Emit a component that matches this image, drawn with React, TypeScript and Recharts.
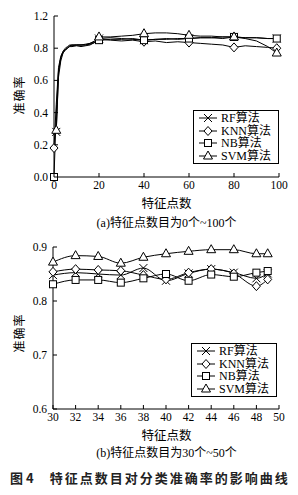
import { LineChart, Line, XAxis, YAxis } from 'recharts';

// ---- chart (a): 0 ~ 100 feature points ----
const topX = [0, 1, 2, 3, 4, 5, 6, 7, 8, 10, 12, 14, 16, 18, 20, 25, 30, 35, 40, 45, 50, 55, 60, 65, 70, 75, 80, 85, 90, 95, 99];
const topRF = [null, 0.28, 0.65, 0.74, 0.78, 0.8, 0.81, 0.82, 0.82, 0.82, 0.82, 0.82, 0.83, 0.84, 0.86, 0.865, 0.86, 0.855, 0.85, 0.855, 0.86, 0.855, 0.86, 0.865, 0.865, 0.86, 0.87, 0.865, 0.865, 0.86, 0.86];
const topKNN = [0.18, 0.45, 0.68, 0.75, 0.78, 0.79, 0.8, 0.81, 0.81, 0.815, 0.81, 0.815, 0.82, 0.835, 0.855, 0.85, 0.845, 0.85, 0.84, 0.845, 0.835, 0.84, 0.835, 0.83, 0.825, 0.82, 0.805, 0.815, 0.81, 0.805, 0.8];
const topNB = [0.0, 0.4, 0.66, 0.74, 0.77, 0.79, 0.8, 0.815, 0.82, 0.82, 0.82, 0.82, 0.825, 0.835, 0.85, 0.855, 0.855, 0.86, 0.85, 0.855, 0.855, 0.86, 0.86, 0.865, 0.865, 0.87, 0.87, 0.865, 0.865, 0.86, 0.86];
const topSVM = [null, 0.29, 0.62, 0.72, 0.77, 0.79, 0.8, 0.815, 0.815, 0.82, 0.82, 0.825, 0.83, 0.845, 0.87, 0.87, 0.875, 0.88, 0.89, 0.895, 0.895, 0.89, 0.88, 0.875, 0.875, 0.87, 0.87, 0.86, 0.845, 0.81, 0.77];
const topMarkX = [20, 40, 60, 80, 99];
const topXTicks = [0, 20, 40, 60, 80, 100];
const topYTicks = [0, 0.2, 0.4, 0.6, 0.8, 1.0];
const topYLabels = ['0.0', '0.2', '0.4', '0.6', '0.8', '1.2'];

// ---- chart (b): 30 ~ 50 feature points ----
const botX = [30, 32, 34, 36, 38, 40, 42, 44, 46, 48, 49];
const botRF = [0.848, 0.8525, 0.85, 0.848, 0.861, 0.8375, 0.851, 0.859, 0.8525, 0.842, 0.851];
const botKNN = [0.854, 0.859, 0.8575, 0.856, 0.848, 0.84, 0.8525, 0.859, 0.851, 0.8275, 0.84];
const botNB = [0.831, 0.839, 0.839, 0.834, 0.842, 0.85, 0.8375, 0.849, 0.845, 0.8525, 0.8555];
const botSVM = [0.872, 0.884, 0.8825, 0.87, 0.881, 0.8875, 0.892, 0.895, 0.895, 0.8875, 0.8875];
const botXTicks = [30, 32, 34, 36, 38, 40, 42, 44, 46, 48, 50];
const botYTicks = [0.6, 0.7, 0.8, 0.9];

const SERIES = [
  { key: 'rf', name: 'RF算法', shape: 'cross' },
  { key: 'knn', name: 'KNN算法', shape: 'diamond' },
  { key: 'nb', name: 'NB算法', shape: 'square' },
  { key: 'svm', name: 'SVM算法', shape: 'triangle' },
];

const FONT = "'Liberation Serif', 'Noto Sans CJK SC', serif";

const topRows = topX.map((x, i) => ({ x, rf: topRF[i], knn: topKNN[i], nb: topNB[i], svm: topSVM[i] }));
const botRows = botX.map((x, i) => ({ x, rf: botRF[i], knn: botKNN[i], nb: botNB[i], svm: botSVM[i] }));

function Marker({ shape, cx, cy }: { shape: string; cx: number; cy: number }) {
  const s = 4;
  if (shape === 'cross')
    return (
      <g stroke="#000" strokeWidth={1}>
        <line x1={cx - s} y1={cy - s} x2={cx + s} y2={cy + s} />
        <line x1={cx - s} y1={cy + s} x2={cx + s} y2={cy - s} />
      </g>
    );
  if (shape === 'diamond')
    return <polygon points={`${cx},${cy - s - 0.5} ${cx + s},${cy} ${cx},${cy + s + 0.5} ${cx - s},${cy}`} fill="#fff" stroke="#000" />;
  if (shape === 'square')
    return <rect x={cx - s + 0.5} y={cy - s + 0.5} width={2 * s - 1} height={2 * s - 1} fill="#fff" stroke="#000" />;
  return <polygon points={`${cx},${cy - s - 1} ${cx + s + 0.5},${cy + s - 1} ${cx - s - 0.5},${cy + s - 1}`} fill="#fff" stroke="#000" />;
}

const makeDot = (shape: string, key: string, rows: any[], markX: number[] | null) => (props: any) => {
  const { cx, cy, payload, index } = props;
  const first = rows.findIndex((r) => r[key] !== null);
  const show = markX === null || index === first || markX.includes(payload.x);
  if (!show || cy == null || payload[key] === null) return <g key={`d-${key}-${index}`} />;
  return (
    <g key={`d-${key}-${index}`}>
      <Marker shape={shape} cx={cx} cy={cy} />
    </g>
  );
};

const XTick = ({ x, y, payload }: any) => (
  <g>
    <line x1={x} y1={y} x2={x} y2={y - 4} stroke="#000" />
    <text x={x} y={y + 12} textAnchor="middle" fontSize={11.5} fontFamily={FONT} fill="#000">
      {payload.value}
    </text>
  </g>
);

const makeYTick = (labels: (v: number) => string) => ({ x, y, payload }: any) => (
  <g>
    <line x1={x} y1={y} x2={x + 4} y2={y} stroke="#000" />
    <text x={x - 6} y={y + 4} textAnchor="end" fontSize={11.5} fontFamily={FONT} fill="#000">
      {labels(payload.value)}
    </text>
  </g>
);

const LegendBox = ({ top, left }: { top: number; left: number }) => (
  <div
    style={{
      position: 'absolute',
      top,
      left,
      border: '1px solid #000',
      background: '#fff',
      padding: '1px 4px',
      width: 76,
      boxSizing: 'content-box',
    }}
  >
    {SERIES.map((s) => (
      <div key={s.key} style={{ display: 'flex', alignItems: 'center', height: 12.5 }}>
        <svg width={20} height={12}>
          <line x1={1} y1={6} x2={19} y2={6} stroke="#000" />
          <Marker shape={s.shape} cx={10} cy={6} />
        </svg>
        <span style={{ marginLeft: 3, fontSize: 12, fontFamily: FONT, lineHeight: '12px', color: '#000' }}>{s.name}</span>
      </div>
    ))}
  </div>
);

const text = (top: number, content: string, extra: any = {}) => (
  <div
    style={{
      position: 'absolute',
      top,
      left: 54,
      width: 225,
      textAlign: 'center',
      fontSize: 12,
      lineHeight: '14px',
      fontFamily: FONT,
      color: '#000',
      ...extra,
    }}
  >
    {content}
  </div>
);

const yTitle = (centerY: number) => (
  <div
    style={{
      position: 'absolute',
      left: 20 - 30,
      top: centerY - 7,
      width: 60,
      height: 14,
      textAlign: 'center',
      transform: 'rotate(-90deg)',
      fontSize: 12,
      lineHeight: '14px',
      fontFamily: FONT,
      color: '#000',
      letterSpacing: 1,
    }}
  >
    准确率
  </div>
);

function Chart({ rows, xDomain, xTicks, yDomain, yTicks, yLabel, marginTop, marginLeft, plotH, markX, lineType }: any) {
  return (
    <LineChart
      width={298}
      height={200}
      data={rows}
      margin={{ top: marginTop, right: 19, left: marginLeft, bottom: 200 - marginTop - plotH - 15 }}
    >
      <XAxis
        dataKey="x"
        type="number"
        domain={xDomain}
        ticks={xTicks}
        height={15}
        tickSize={0}
        tickMargin={0}
        tick={<XTick />}
        axisLine={{ stroke: '#000' }}
        tickLine={false}
        interval={0}
      />
      <YAxis
        type="number"
        domain={yDomain}
        ticks={yTicks}
        width={30}
        tickSize={0}
        tickMargin={0}
        tick={makeYTick(yLabel)}
        axisLine={{ stroke: '#000' }}
        tickLine={false}
        interval={0}
      />
      {SERIES.map((s) => (
        <Line
          key={s.key}
          dataKey={s.key}
          name={s.name}
          type={lineType}
          stroke="#000"
          strokeWidth={1}
          dot={makeDot(s.shape, s.key, rows, markX)}
          activeDot={false}
          isAnimationActive={false}
          connectNulls={false}
        />
      ))}
    </LineChart>
  );
}

export default function App() {
  return (
    <div style={{ position: 'absolute', left: 0, top: 0, width: 298, height: 495, background: '#fff', overflow: 'hidden' }}>
      <div style={{ position: 'absolute', left: 0, top: 0 }}>
        <Chart
          rows={topRows}
          xDomain={[0, 100]}
          xTicks={topXTicks}
          yDomain={[0, 1]}
          yTicks={topYTicks}
          yLabel={(v: number) => topYLabels[topYTicks.indexOf(v)] ?? v.toFixed(1)}
          marginTop={16}
          marginLeft={24}
          plotH={161}
          markX={topMarkX}
          lineType="linear"
        />
      </div>
      <LegendBox top={110} left={193} />
      {yTitle(95)}
      {text(197, '特征点数', { fontSize: 12.5 })}
      {text(216, '(a)特征点数目为0个~100个')}

      <div style={{ position: 'absolute', left: 0, top: 230 }}>
        <Chart
          rows={botRows}
          xDomain={[30, 50]}
          xTicks={botXTicks}
          yDomain={[0.6, 0.9]}
          yTicks={botYTicks}
          yLabel={(v: number) => v.toFixed(1)}
          marginTop={17}
          marginLeft={23}
          plotH={162}
          markX={null}
          lineType="monotone"
        />
      </div>
      <LegendBox top={343} left={191} />
      {yTitle(333)}
      {text(429, '特征点数', { fontSize: 12.5 })}
      {text(446, '(b)特征点数目为30个~50个')}

      <div
        style={{
          position: 'absolute',
          top: 470,
          left: 10,
          width: 290,
          fontSize: 13,
          lineHeight: '16px',
          fontWeight: 'bold',
          fontFamily: "'Noto Sans CJK SC', sans-serif",
          color: '#222',
          whiteSpace: 'nowrap',
        }}
      >
        <span>图 4</span>
        <span style={{ marginLeft: 16, letterSpacing: 2 }}>特征点数目对分类准确率的影响曲线</span>
      </div>
    </div>
  );
}
